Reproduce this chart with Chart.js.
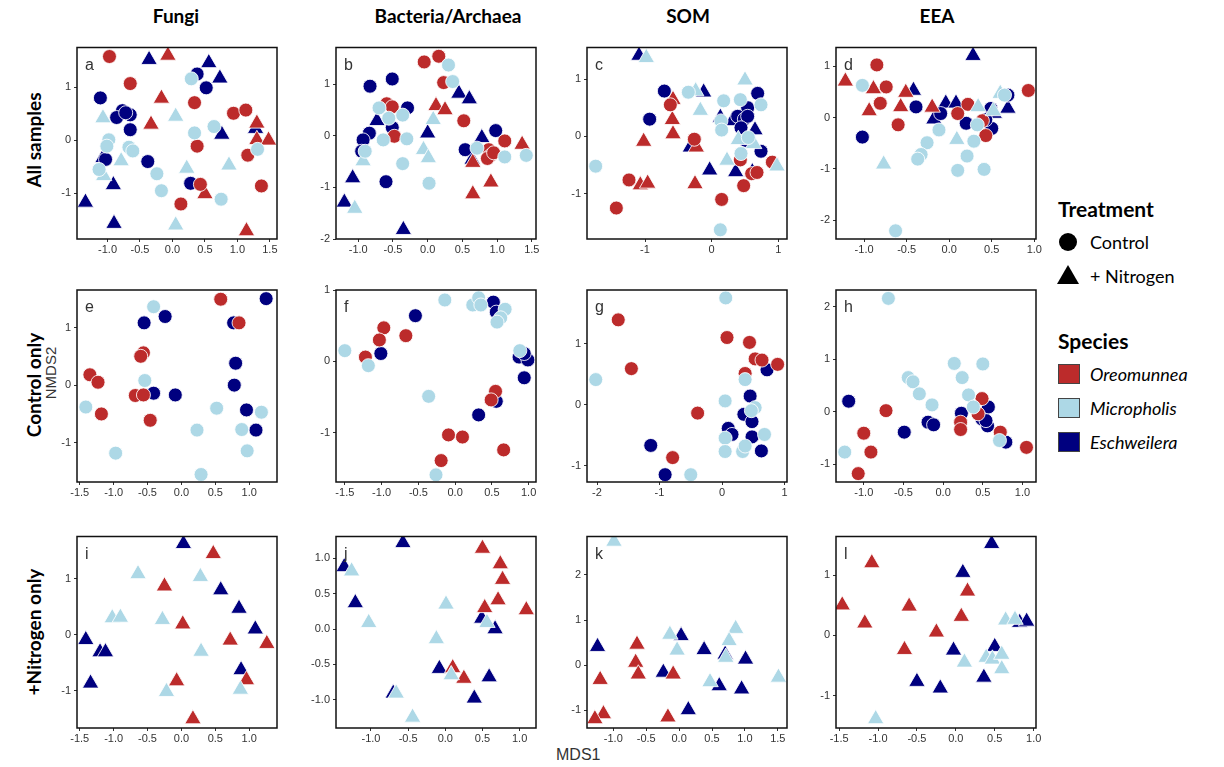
<!DOCTYPE html>
<html>
<head>
<meta charset="utf-8">
<script src="https://cdn.jsdelivr.net/npm/chart.js"></script>
<style>
    body { margin: 0; background: #fff; }
    #page { position: relative; width: 1224px; height: 767px; overflow: hidden; background: #fff; }
    .panel { position: absolute; }
    .col-title { position: absolute; top: 4px; font: bold 19px Lato, sans-serif; color: #000; transform: translateX(-50%); white-space: nowrap; }
    .row-title { position: absolute; font: bold 19px Lato, sans-serif; color: #000; transform: translate(-50%, -50%) rotate(-90deg); white-space: nowrap; }
    .axis-title { position: absolute; font: 15px "Liberation Sans", Arial, sans-serif; color: #333; white-space: nowrap; }
    .leg-title { position: absolute; font: bold 21px Lato, sans-serif; color: #000; line-height: 26px; }
    .leg-text { position: absolute; font: 18px Lato, sans-serif; color: #000; line-height: 24px; }
    .leg-dot { position: absolute; width: 18px; height: 18px; border-radius: 50%; background: #000; }
    .leg-tri { position: absolute; width: 0; height: 0; border-left: 11px solid transparent; border-right: 11px solid transparent; border-bottom: 19px solid #000; }
    .leg-sq { position: absolute; width: 20px; height: 18px; border: 1px solid #444; }
</style>
</head>
<body>
<div id="page">
    <div class="col-title" style="left:176px;">Fungi</div>
    <div class="col-title" style="left:448px;">Bacteria/Archaea</div>
    <div class="col-title" style="left:688px;">SOM</div>
    <div class="col-title" style="left:937px;">EEA</div>

    <div class="row-title" style="left:33px; top:140px;">All samples</div>
    <div class="row-title" style="left:33px; top:385px;">Control only</div>
    <div class="row-title" style="left:33px; top:632px;">+Nitrogen only</div>

    <div class="axis-title" style="left:50px; top:373px; transform: translate(-50%, -50%) rotate(-90deg);">NMDS2</div>
    <div class="axis-title" style="left:556px; top:746px; font-size:16px;">MDS1</div>

    <!-- legend -->
    <div class="leg-title" style="left:1058px; top:196px;">Treatment</div>
    <div class="leg-dot" style="left:1059px; top:233px;"></div>
    <div class="leg-text" style="left:1090px; top:230px;">Control</div>
    <div class="leg-tri" style="left:1057px; top:265px;"></div>
    <div class="leg-text" style="left:1090px; top:264px;">+ Nitrogen</div>

    <div class="leg-title" style="left:1058px; top:328px;">Species</div>
    <div class="leg-sq" style="left:1058px; top:364px; background:#BC2B2B;"></div>
    <div class="leg-text" style="left:1090px; top:362px; font-style:italic;">Oreomunnea</div>
    <div class="leg-sq" style="left:1058px; top:398px; background:#ADD8E6;"></div>
    <div class="leg-text" style="left:1090px; top:396px; font-style:italic;">Micropholis</div>
    <div class="leg-sq" style="left:1058px; top:432px; background:#00007F;"></div>
    <div class="leg-text" style="left:1090px; top:430px; font-style:italic;">Eschweilera</div>
</div>

<script>
// 颜色
const RED = '#BC2B2B';
const LIGHT = '#ADD8E6';
const NAVY = '#00007F';

// ---- a: Fungi / all samples ----
const aOreoC = [[-0.97,1.58],[-0.65,1.07],[0.34,0.71],[0.94,0.51],[1.13,0.57],[0.38,-0.11],[1.16,-0.28],[1.37,-0.86],[0.43,-0.83],[0.13,-1.20]];
const aOreoN = [[-0.07,1.60],[-0.17,0.79],[-0.33,0.30],[0.50,-1.01],[1.30,0.32],[1.30,0.01],[1.48,0.00],[1.14,-1.71]];
const aEschC = [[-1.11,0.80],[0.38,1.25],[0.52,0.99],[-0.77,0.56],[-0.86,0.43],[-0.65,0.48],[-0.72,0.52],[-0.65,0.20],[-1.03,-0.36],[-0.38,-0.40],[0.28,-0.81]];
const aEschN = [[-0.36,1.52],[0.56,1.46],[0.73,1.17],[0.76,0.11],[1.28,0.22],[-1.07,-0.33],[-0.91,-0.84],[-1.34,-1.17],[-0.90,-1.57]];
const aMicroC = [[0.29,1.16],[0.64,0.26],[0.34,0.14],[-0.98,0.01],[-1.01,-0.11],[-0.67,-0.13],[-0.61,-0.20],[-1.13,-0.55],[-0.24,-0.63],[-0.17,-0.95],[0.75,-1.11],[1.31,-0.17]];
const aMicroN = [[-1.07,0.42],[0.05,0.45],[-0.79,-0.39],[0.22,-0.53],[0.87,-0.47],[-1.06,-0.67],[0.05,-1.60]];

// ---- b: Bacteria/Archaea / all samples ----
const bOreoC = [[-0.05,1.43],[0.16,1.54],[0.23,1.03],[-0.59,0.62],[-0.51,0.56],[-0.48,-0.01],[0.52,0.29],[1.11,-0.10],[0.88,-0.27],[0.90,-0.39],[0.86,-0.44],[0.95,-0.33]];
const bOreoN = [[0.12,0.58],[0.25,0.50],[0.65,-0.52],[0.65,-1.13],[0.91,-0.90],[1.36,-0.17]];
const bEschC = [[-0.83,0.96],[-0.51,1.10],[-0.29,0.54],[-0.84,0.05],[-0.93,-0.08],[-0.95,-0.30],[-0.51,0.16],[-0.60,-0.89],[0.54,-0.27],[0.98,0.10]];
const bEschN = [[-0.73,0.29],[0.45,0.82],[0.60,0.71],[0.00,0.05],[0.78,-0.04],[0.64,-0.46],[-1.08,-0.82],[-1.20,-1.29],[-0.35,-1.82]];
const bMicroC = [[0.30,1.37],[0.36,1.05],[-0.70,0.54],[-0.36,0.40],[-0.56,0.34],[-0.64,-0.08],[-0.30,-0.06],[-0.90,-0.30],[-0.36,-0.54],[0.02,-0.92],[0.71,-0.24],[1.11,-0.41],[1.42,-0.38]];
const bMicroN = [[0.08,0.31],[-0.06,-0.27],[0.01,-0.43],[-0.93,-0.49],[-1.05,-1.41]];

// ---- c: SOM / all samples ----
const cOreoC = [[-0.62,0.55],[-0.26,-0.05],[-1.24,-0.76],[-1.43,-1.25],[0.43,-0.41],[0.91,-0.45],[0.48,-0.86],[0.60,-0.65],[0.68,-0.63],[0.15,-1.10]];
const cOreoN = [[-0.58,0.64],[-0.59,0.29],[-0.58,0.04],[-1.02,-0.09],[-0.23,-0.19],[-1.07,-0.85],[-0.96,-0.82],[-0.25,-0.83]];
const cEschC = [[-0.71,0.79],[-0.93,0.30],[0.69,0.75],[0.54,0.50],[0.39,0.35],[0.49,0.30],[0.54,0.35],[0.44,0.15],[0.51,-0.07],[0.74,-0.26]];
const cEschN = [[-1.09,1.41],[-0.12,0.77],[-0.32,-0.19],[-0.03,-0.59],[0.36,-0.62],[0.61,-0.62],[0.13,0.33],[0.65,0.11],[0.31,0.27]];
const cMicroC = [[-0.35,0.77],[0.18,0.62],[0.43,0.64],[0.74,0.55],[0.14,0.27],[0.15,0.11],[0.55,-0.02],[0.44,-0.30],[-1.74,-0.52],[0.13,-1.63]];
const cMicroN = [[-0.98,1.37],[0.50,0.98],[-0.24,0.79],[-0.17,0.45],[0.40,-0.06],[0.23,-0.42],[0.98,-0.52],[0.63,-0.13]];

// ---- d: EEA / all samples ----
const dOreoC = [[-0.85,1.03],[-0.74,0.60],[-0.81,0.28],[-0.60,-0.14],[0.22,0.26],[0.39,-0.06],[0.43,-0.35],[0.93,0.53],[0.10,0.08]];
const dOreoN = [[-1.22,0.71],[-0.89,0.56],[-0.94,0.13],[-0.51,0.49],[-0.57,0.21],[-0.20,0.20]];
const dEschC = [[-1.02,-0.38],[-0.39,0.21],[-0.10,0.08],[0.20,-0.11],[0.49,0.18],[0.50,-0.21],[0.69,0.44],[0.43,-0.04]];
const dEschN = [[0.28,1.21],[-0.42,0.53],[-0.04,0.28],[0.08,0.28],[-0.18,-0.03],[0.69,0.18],[0.53,0.08]];
const dMicroC = [[-1.02,0.63],[-0.12,-0.24],[-0.26,-0.49],[-0.33,-0.72],[-0.37,-0.81],[0.29,-0.46],[0.21,-0.75],[0.10,-1.03],[0.41,-1.01],[-0.63,-2.21],[0.33,-0.14],[0.65,0.44]];
const dMicroN = [[-0.77,-0.91],[0.09,-0.43],[0.34,0.21],[0.52,0.13],[0.60,0.47]];

// ---- e-h: control only ----
const eOreoC = [[0.58,1.49],[0.85,1.08],[-1.35,0.18],[-1.23,0.05],[-1.18,-0.50],[-0.56,0.56],[-0.60,0.50],[-0.68,-0.18],[-0.56,-0.17],[-0.46,-0.61]];
const eEschC = [[-0.55,1.08],[-0.24,1.19],[0.77,1.08],[1.25,1.50],[0.80,0.38],[0.78,0.00],[-0.41,-0.14],[-0.09,-0.17],[0.96,-0.43],[1.10,-0.78]];
const eMicroC = [[-0.41,1.36],[-0.54,0.08],[-1.41,-0.38],[-0.97,-1.18],[0.23,-0.78],[0.52,-0.40],[0.29,-1.55],[0.89,-0.77],[0.97,-1.14],[1.18,-0.47]];

const fOreoC = [[-0.97,0.47],[-1.03,0.30],[-0.67,0.36],[-1.22,0.06],[0.55,-0.42],[0.49,-0.54],[-0.09,-1.03],[0.10,-1.06],[-0.19,-1.39],[0.66,-1.24]];
const fEschC = [[-0.54,0.64],[-1.01,0.11],[0.52,0.83],[0.56,0.69],[0.87,0.06],[0.99,0.02],[0.94,0.11],[0.94,-0.23],[0.56,-0.56],[0.32,-0.75]];
const fMicroC = [[-1.50,0.15],[-1.18,-0.06],[-0.14,0.86],[0.24,0.79],[0.32,0.89],[0.35,0.79],[0.68,0.73],[0.62,0.61],[0.57,0.55],[0.88,0.15],[-0.36,-0.49],[-0.26,-1.59]];

const gOreoC = [[-1.66,1.39],[-1.45,0.59],[-0.39,-0.14],[-0.79,-0.87],[0.08,1.10],[0.44,1.02],[0.53,0.75],[0.64,0.73],[0.89,0.66],[0.37,0.51]];
const gEschC = [[0.72,0.57],[0.45,0.14],[0.35,-0.16],[0.48,-0.28],[0.10,-0.39],[0.16,-0.49],[0.48,-0.53],[0.63,-0.76],[-1.14,-0.67],[-0.91,-1.15]];
const gMicroC = [[0.06,1.75],[-2.02,0.41],[0.37,0.41],[0.05,0.06],[0.53,-0.05],[0.47,-0.10],[0.68,-0.49],[0.05,-0.55],[0.05,-0.77],[0.33,-0.77],[0.37,-0.68],[-0.50,-1.15]];

const hOreoC = [[-0.72,0.02],[-1.00,-0.41],[-0.91,-0.77],[-1.07,-1.18],[0.49,0.25],[0.44,-0.04],[0.22,-0.20],[0.22,-0.34],[0.72,-0.39],[1.05,-0.68]];
const hEschC = [[-1.19,0.20],[-0.49,-0.39],[-0.19,-0.20],[-0.12,-0.25],[0.23,-0.03],[0.57,0.09],[0.49,-0.14],[0.56,-0.27],[0.54,-0.17],[0.79,-0.58]];
const hMicroC = [[-0.69,2.16],[0.14,0.92],[0.50,0.91],[0.24,0.65],[-0.44,0.65],[-0.38,0.57],[-0.30,0.34],[-0.14,0.13],[0.32,0.32],[0.38,0.09],[0.71,-0.55],[-1.24,-0.77]];

// ---- i-l: +nitrogen only ----
const iOreoN = [[0.47,1.45],[-0.25,0.87],[0.02,0.19],[0.72,-0.10],[1.26,-0.16],[-0.07,-0.83],[0.96,-0.81],[0.17,-1.51]];
const iEschN = [[0.03,1.63],[0.58,0.80],[0.85,0.47],[1.09,0.10],[-1.41,-0.09],[-1.20,-0.31],[-1.12,-0.31],[-1.34,-0.87],[0.88,-0.63]];
const iMicroN = [[-0.64,1.09],[0.28,1.04],[-1.02,0.30],[-0.90,0.31],[-0.28,0.27],[0.29,-0.30],[-0.22,-1.02],[0.87,-0.98]];

const jOreoN = [[0.50,1.14],[0.74,0.92],[0.77,0.70],[0.71,0.41],[0.53,0.30],[1.09,0.27],[0.10,-0.55],[0.25,-0.70]];
const jEschN = [[-0.57,1.22],[-1.36,0.88],[-1.21,0.37],[0.49,0.15],[0.67,0.00],[-0.08,-0.56],[0.59,-0.68],[0.39,-0.98],[-0.70,-0.91]];
const jMicroN = [[-1.26,0.82],[0.01,0.35],[-1.03,0.09],[0.56,0.09],[-0.12,-0.14],[0.08,-0.65],[-0.66,-0.91],[-0.44,-1.25]];

const kOreoN = [[-0.64,0.46],[-0.66,0.06],[-0.62,-0.20],[-1.20,-0.32],[-0.09,-0.20],[-1.15,-1.08],[-1.28,-1.19],[-0.17,-1.15]];
const kEschN = [[-1.24,0.41],[0.03,0.65],[0.38,0.34],[0.70,0.24],[1.01,0.13],[-0.24,-0.16],[0.61,-0.46],[0.95,-0.53],[0.14,-0.99]];
const kMicroN = [[-0.99,2.74],[-0.14,0.68],[-0.03,0.33],[0.86,0.81],[0.76,0.54],[0.71,0.17],[0.47,-0.37],[1.51,-0.27]];

const lOreoN = [[-1.08,1.20],[-1.46,0.50],[-1.17,0.20],[-0.60,0.48],[-0.66,-0.24],[-0.25,0.05],[0.07,0.31],[0.15,0.73]];
const lEschN = [[0.46,1.52],[0.09,1.04],[-0.03,-0.25],[-0.50,-0.77],[-0.20,-0.88],[0.36,-0.70],[0.50,-0.19],[0.82,0.21],[0.91,0.23]];
const lMicroN = [[-1.03,-1.39],[0.11,-0.45],[0.39,-0.37],[0.47,-0.40],[0.59,-0.32],[0.59,-0.56],[0.64,0.25],[0.76,0.26]];

// 刻度
const ticksX5 = [-1, -0.5, 0, 0.5, 1, 1.5];
const ticksX4 = [-1, -0.5, 0, 0.5, 1];
const ticksXE = [-1.5, -1, -0.5, 0, 0.5, 1];
const ticksX3 = [-1, 0, 1];
const ticksXG = [-2, -1, 0, 1];
const ticksY3 = [-1, 0, 1];
const ticksY4 = [-2, -1, 0, 1];
const ticksYH = [-1, 0, 1, 2];
const ticksYJ = [-1, -0.5, 0, 0.5, 1];

// 面板位置
const colLeft = [77, 336, 587, 836];
const rowTop = [45, 290, 534];
const rowHeight = [194, 192, 194];
const BOX_W = 200;
const AXIS_W = 30;
const AXIS_H = 22;
const PAD_TOP = 8;
const PAD_RIGHT = 12;

// series: [data, colour, triangle?]
const panels = [
    { letter: 'a', col: 0, row: 0, x: [-1.47, 1.61], y: [-1.86, 1.75], xt: ticksX5, yt: ticksY3, xd: 1, yd: 0,
      series: [[aMicroC, LIGHT, false], [aMicroN, LIGHT, true], [aOreoC, RED, false], [aOreoN, RED, true], [aEschC, NAVY, false], [aEschN, NAVY, true]] },
    { letter: 'b', col: 1, row: 0, x: [-1.32, 1.56], y: [-2.0, 1.71], xt: ticksX5, yt: ticksY4, xd: 1, yd: 0,
      series: [[bMicroC, LIGHT, false], [bMicroN, LIGHT, true], [bOreoC, RED, false], [bOreoN, RED, true], [bEschC, NAVY, false], [bEschN, NAVY, true]] },
    { letter: 'c', col: 2, row: 0, x: [-1.87, 1.13], y: [-1.79, 1.55], xt: ticksX3, yt: ticksY3, xd: 0, yd: 0,
      series: [[cMicroC, LIGHT, false], [cMicroN, LIGHT, true], [cOreoC, RED, false], [cOreoN, RED, true], [cEschC, NAVY, false], [cEschN, NAVY, true]] },
    { letter: 'd', col: 3, row: 0, x: [-1.33, 1.02], y: [-2.37, 1.37], xt: ticksX4, yt: ticksY4, xd: 1, yd: 0,
      series: [[dMicroC, LIGHT, false], [dMicroN, LIGHT, true], [dOreoC, RED, false], [dOreoN, RED, true], [dEschC, NAVY, false], [dEschN, NAVY, true]] },
    { letter: 'e', col: 0, row: 1, x: [-1.54, 1.41], y: [-1.68, 1.65], xt: ticksXE, yt: ticksY3, xd: 1, yd: 0,
      series: [[eMicroC, LIGHT, false], [eOreoC, RED, false], [eEschC, NAVY, false]] },
    { letter: 'f', col: 1, row: 1, x: [-1.62, 1.10], y: [-1.69, 1.0], xt: ticksXE, yt: ticksY3, xd: 1, yd: 0,
      series: [[fMicroC, LIGHT, false], [fOreoC, RED, false], [fEschC, NAVY, false]] },
    { letter: 'g', col: 2, row: 1, x: [-2.16, 1.04], y: [-1.27, 1.88], xt: ticksXG, yt: ticksY3, xd: 0, yd: 0,
      series: [[gMicroC, LIGHT, false], [gOreoC, RED, false], [gEschC, NAVY, false]] },
    { letter: 'h', col: 3, row: 1, x: [-1.35, 1.17], y: [-1.34, 2.32], xt: ticksX4, yt: ticksYH, xd: 1, yd: 0,
      series: [[hMicroC, LIGHT, false], [hOreoC, RED, false], [hEschC, NAVY, false]] },
    { letter: 'i', col: 0, row: 2, x: [-1.54, 1.41], y: [-1.67, 1.76], xt: ticksXE, yt: ticksY3, xd: 1, yd: 0,
      series: [[iMicroN, LIGHT, true], [iOreoN, RED, true], [iEschN, NAVY, true]] },
    { letter: 'j', col: 1, row: 2, x: [-1.47, 1.22], y: [-1.40, 1.31], xt: ticksX4, yt: ticksYJ, xd: 1, yd: 1,
      series: [[jMicroN, LIGHT, true], [jOreoN, RED, true], [jEschN, NAVY, true]] },
    { letter: 'k', col: 2, row: 2, x: [-1.40, 1.64], y: [-1.39, 2.85], xt: ticksX5, yt: ticksYH, xd: 1, yd: 0,
      series: [[kMicroN, LIGHT, true], [kOreoN, RED, true], [kEschN, NAVY, true]] },
    { letter: 'l', col: 3, row: 2, x: [-1.54, 1.03], y: [-1.54, 1.64], xt: ticksXE, yt: ticksY3, xd: 1, yd: 0,
      series: [[lMicroN, LIGHT, true], [lOreoN, RED, true], [lEschN, NAVY, true]] }
];

const tickFont = { family: '"Liberation Sans", Arial, sans-serif', size: 11 };

function framePlugin(letter) {
    // 画外框和面板字母
    return {
        id: 'frame_' + letter,
        afterDraw(chart) {
            const a = chart.chartArea;
            const ctx = chart.ctx;
            ctx.save();
            ctx.strokeStyle = '#111';
            ctx.lineWidth = 1.5;
            ctx.strokeRect(a.left, a.top, a.right - a.left, a.bottom - a.top);
            ctx.fillStyle = '#333';
            ctx.font = '16px "Liberation Sans", Arial, sans-serif';
            ctx.textBaseline = 'alphabetic';
            ctx.fillText(letter, a.left + 8, a.top + 22);
            ctx.restore();
        }
    };
}

function makeAxis(range, ticks, decimals, isX) {
    return {
        type: 'linear',
        min: range[0],
        max: range[1],
        afterBuildTicks: function(scale) {
            scale.ticks = ticks.map(v => ({ value: v }));
        },
        afterFit: function(scale) {
            if (isX) {
                scale.height = AXIS_H;
                scale.paddingLeft = 0;
                scale.paddingRight = 0;
            } else {
                scale.width = AXIS_W;
                scale.paddingTop = 0;
                scale.paddingBottom = 0;
            }
        },
        ticks: {
            autoSkip: false,
            maxRotation: 0,
            padding: isX ? 1 : 3,
            color: '#333',
            font: tickFont,
            callback: v => Number(v).toFixed(decimals)
        },
        grid: { drawOnChartArea: false, drawTicks: true, tickLength: 3, color: '#333' },
        border: { display: false }
    };
}

function makePanel(p) {
    const h = rowHeight[p.row];
    const wrap = document.createElement('div');
    wrap.className = 'panel';
    wrap.style.left = (colLeft[p.col] - AXIS_W) + 'px';
    wrap.style.top = (rowTop[p.row] - PAD_TOP) + 'px';
    const canvas = document.createElement('canvas');
    canvas.width = BOX_W + AXIS_W + PAD_RIGHT;
    canvas.height = h + PAD_TOP + AXIS_H;
    wrap.appendChild(canvas);
    document.getElementById('page').appendChild(wrap);

    const datasets = p.series.map(function(s) {
        const tri = s[2];
        return {
            data: s[0].map(pt => ({ x: pt[0], y: pt[1] })),
            pointStyle: tri ? 'triangle' : 'circle',
            pointRadius: tri ? 9.5 : 7,
            pointHoverRadius: tri ? 9.5 : 7,
            backgroundColor: s[1],
            borderColor: 'rgba(255,255,255,0.85)',
            borderWidth: 1
        };
    });

    new Chart(canvas.getContext('2d'), {
        type: 'scatter',
        data: { datasets: datasets },
        options: {
            responsive: false,
            animation: false,
            devicePixelRatio: 1,
            layout: { padding: { top: PAD_TOP, right: PAD_RIGHT, left: 0, bottom: 0 } },
            plugins: { legend: { display: false }, tooltip: { enabled: false } },
            scales: {
                x: makeAxis(p.x, p.xt, p.xd, true),
                y: makeAxis(p.y, p.yt, p.yd, false)
            }
        },
        plugins: [framePlugin(p.letter)]
    });
}

panels.forEach(makePanel);
</script>
</body>
</html>
